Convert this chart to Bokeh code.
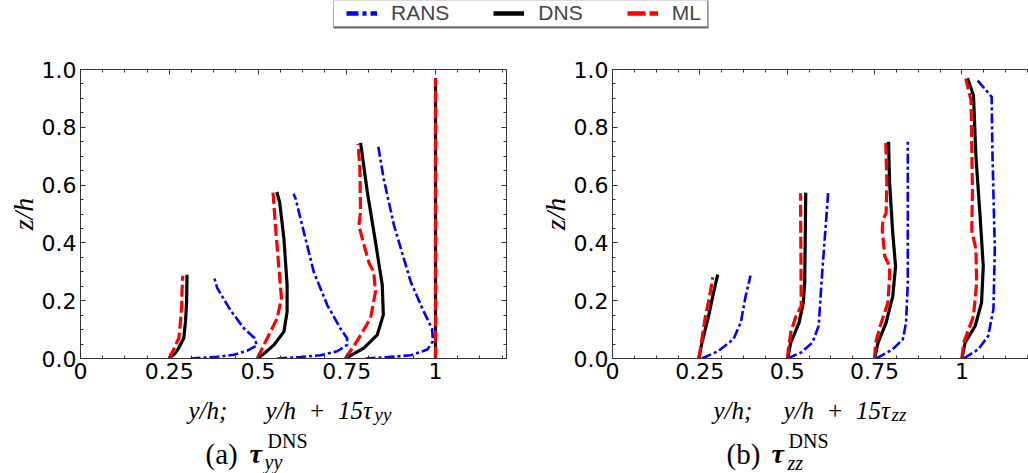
from bokeh.plotting import figure
from bokeh.models import (Range1d, FixedTicker, LinearAxis, Label, Legend, LegendItem,
                          BoxAnnotation, PrintfTickFormatter)
from bokeh.layouts import column, row
from bokeh.embed import file_html
from bokeh.resources import INLINE

# ---------------- data ----------------
STATIONS = [0.25, 0.5, 0.75, 1.0]
X_TICKS = [0, 0.25, 0.5, 0.75, 1]
X_TICK_LABELS = ["0", "0.25", "0.5", "0.75", "1"]
Y_TICKS = [0.0, 0.2, 0.4, 0.6, 0.8, 1.0]
SERIES = ["RANS", "DNS", "ML"]

# panel (a): abscissa = y/h + 15*tau_yy ; each station -> (z/h list, abscissa list)
YY_RANS = {
    0.25: ([0, 0.005, 0.013, 0.027, 0.045, 0.071, 0.105, 0.166, 0.244, 0.283],
           [0.31, 0.38, 0.432, 0.47, 0.497, 0.49, 0.46, 0.423, 0.385, 0.376]),
    0.5: ([0, 0.005, 0.011, 0.025, 0.047, 0.07, 0.104, 0.185, 0.3, 0.438, 0.553, 0.57],
          [0.554, 0.62, 0.676, 0.723, 0.751, 0.751, 0.732, 0.695, 0.657, 0.629, 0.606, 0.6]),
    0.75: ([0, 0.005, 0.011, 0.031, 0.06, 0.104, 0.162, 0.266, 0.461, 0.622, 0.739],
           [0.803, 0.87, 0.93, 0.977, 0.993, 0.99, 0.967, 0.93, 0.883, 0.854, 0.838]),
    1.0: ([0, 0.97], [1.0, 1.0]),
}
YY_DNS = {
    0.25: ([0, 0.02, 0.037, 0.071, 0.131, 0.2, 0.29],
           [0.249, 0.268, 0.277, 0.291, 0.296, 0.299, 0.3]),
    0.5: ([0, 0.02, 0.047, 0.093, 0.162, 0.254, 0.415, 0.541, 0.576],
          [0.498, 0.52, 0.545, 0.573, 0.582, 0.582, 0.573, 0.561, 0.553]),
    0.75: ([0, 0.036, 0.082, 0.151, 0.254, 0.403, 0.576, 0.746],
           [0.746, 0.798, 0.836, 0.853, 0.85, 0.831, 0.808, 0.789]),
    1.0: ([0, 0.97], [1.0, 1.0]),
}
YY_ML = {
    0.25: ([0, 0.033, 0.071, 0.131, 0.185, 0.234, 0.286],
           [0.25, 0.263, 0.277, 0.282, 0.285, 0.286, 0.288]),
    0.5: ([0, 0.07, 0.139, 0.209, 0.311, 0.461, 0.564, 0.574],
          [0.498, 0.526, 0.554, 0.566, 0.559, 0.549, 0.543, 0.542]),
    0.75: ([0, 0.06, 0.139, 0.231, 0.3, 0.33, 0.4, 0.461, 0.507, 0.656, 0.743],
           [0.746, 0.779, 0.817, 0.831, 0.826, 0.813, 0.797, 0.784, 0.789, 0.787, 0.782]),
    1.0: ([0, 0.97], [1.0, 1.0]),
}

# panel (b): abscissa = y/h + 15*tau_zz
ZZ_RANS = {
    0.25: ([0, 0.026, 0.067, 0.124, 0.216, 0.287],
           [0.256, 0.303, 0.346, 0.367, 0.381, 0.395]),
    0.5: ([0, 0.021, 0.055, 0.113, 0.262, 0.377, 0.572],
          [0.501, 0.54, 0.572, 0.59, 0.598, 0.605, 0.617]),
    0.75: ([0, 0.032, 0.067, 0.124, 0.262, 0.491, 0.75],
           [0.755, 0.802, 0.831, 0.84, 0.845, 0.845, 0.845]),
    1.0: ([0, 0.032, 0.078, 0.17, 0.377, 0.721, 0.905, 0.966],
          [1.005, 1.047, 1.075, 1.09, 1.094, 1.087, 1.085, 1.042]),
}
ZZ_DNS = {
    0.25: ([0, 0.055, 0.147, 0.227, 0.29],
           [0.247, 0.256, 0.275, 0.289, 0.301]),
    0.5: ([0, 0.055, 0.124, 0.193, 0.262, 0.574],
          [0.501, 0.51, 0.534, 0.546, 0.55, 0.553]),
    0.75: ([0, 0.055, 0.124, 0.216, 0.319, 0.434, 0.606, 0.75],
           [0.75, 0.76, 0.783, 0.802, 0.81, 0.802, 0.793, 0.79]),
    1.0: ([0, 0.055, 0.113, 0.193, 0.319, 0.491, 0.698, 0.91, 0.97],
          [1.0, 1.009, 1.038, 1.056, 1.061, 1.052, 1.04, 1.033, 1.016]),
}
ZZ_ML = {
    0.25: ([0, 0.03, 0.147, 0.216, 0.281],
           [0.247, 0.251, 0.266, 0.278, 0.287]),
    0.5: ([0, 0.03, 0.09, 0.147, 0.181, 0.572],
          [0.501, 0.503, 0.51, 0.525, 0.54, 0.538]),
    0.75: ([0, 0.055, 0.124, 0.193, 0.285, 0.319, 0.354, 0.445, 0.48, 0.503, 0.606, 0.746],
           [0.75, 0.753, 0.769, 0.788, 0.793, 0.793, 0.779, 0.772, 0.774, 0.783, 0.785, 0.782]),
    1.0: ([0, 0.055, 0.147, 0.262, 0.377, 0.445, 0.583, 0.893, 0.968],
          [1.0, 1.005, 1.033, 1.042, 1.04, 1.028, 1.03, 1.026, 1.011]),
}

# ---------------- styles ----------------
STYLE = {
    "RANS": dict(line_color="#0000ff", line_width=2.6, line_dash="10 3 3 3"),
    "DNS": dict(line_color="#000000", line_width=3.2),
    "ML": dict(line_color="#ff0000", line_width=3.2, line_dash="12 4"),
}
LEGEND_STYLE = {
    "RANS": dict(line_color="#0000ff", line_width=4.5, line_dash="12 4 4 4"),
    "DNS": dict(line_color="#000000", line_width=4.5),
    "ML": dict(line_color="#ff0000", line_width=4.5, line_dash="18 4"),
}
AXIS_COLOR = "#333333"
SERIF = "Liberation Serif"
W, H = 1028, 473
LEG_H, ROW_H = 30, 362
TXT_H = H - LEG_H - ROW_H
Y_TITLE = "z/h"


def style_axis(ax, labels=True):
    ax.axis_line_color = AXIS_COLOR
    ax.axis_line_width = 1
    ax.major_tick_line_color = AXIS_COLOR
    ax.minor_tick_line_color = AXIS_COLOR
    ax.major_tick_in = 5
    ax.major_tick_out = 0
    ax.minor_tick_in = 3
    ax.minor_tick_out = 0
    if labels:
        ax.major_label_text_font = "DejaVu Sans"
        ax.major_label_text_font_size = "22px"
        ax.major_label_text_color = "black"
        ax.major_label_standoff = 4
    else:
        ax.major_label_text_color = None
        ax.major_label_text_font_size = "1px"
        ax.major_label_standoff = 0


def blank(width, height, x0, x1, y0, y1):
    """A figure without axes whose data coordinates are the picture's pixels."""
    return figure(width=width, height=height, x_range=Range1d(x0, x1), y_range=Range1d(y1, y0),
                  x_axis_type=None, y_axis_type=None, toolbar_location=None,
                  output_backend="svg", min_border=0, outline_line_color=None)


def add_text(p, text, x, y, size, style="normal", align="left"):
    p.add_layout(Label(x=x, y=y, text=text, text_font=SERIF, text_font_size=size,
                       text_font_style=style, text_align=align, text_baseline="alphabetic",
                       text_color="black"))


def make_panel(width, height, mbl, mbr, mbt, mbb, xmax, rans, dns, ml, right_axis):
    p = figure(width=width, height=height, x_range=Range1d(0, xmax), y_range=Range1d(0, 1),
               x_axis_type=None, y_axis_type=None, toolbar_location=None,
               output_backend="svg", min_border_left=mbl, min_border_right=mbr,
               min_border_top=mbt, min_border_bottom=mbb, outline_line_color=None,
               background_fill_color="white", border_fill_color="white")
    x_minor = [i * 0.0625 for i in range(int(xmax / 0.0625) + 1)]
    y_minor = [i * 0.05 for i in range(21)]
    xb = LinearAxis(ticker=FixedTicker(ticks=X_TICKS, minor_ticks=x_minor),
                    major_label_overrides=dict(zip(X_TICKS, X_TICK_LABELS)))
    style_axis(xb)
    p.add_layout(xb, "below")
    xa = LinearAxis(ticker=FixedTicker(ticks=X_TICKS, minor_ticks=x_minor))
    style_axis(xa, labels=False)
    p.add_layout(xa, "above")
    yl = LinearAxis(ticker=FixedTicker(ticks=Y_TICKS, minor_ticks=y_minor),
                    formatter=PrintfTickFormatter(format="%.1f"),
                    axis_label=Y_TITLE)
    style_axis(yl)
    yl.axis_label_text_font = SERIF
    yl.axis_label_text_font_style = "italic"
    yl.axis_label_text_font_size = "28px"
    yl.axis_label_text_color = "black"
    yl.axis_label_standoff = 0
    p.add_layout(yl, "left")
    if right_axis:
        yr = LinearAxis(ticker=FixedTicker(ticks=Y_TICKS, minor_ticks=y_minor))
        style_axis(yr, labels=False)
        p.add_layout(yr, "right")
    for s in STATIONS:
        for name, d in (("RANS", rans), ("DNS", dns), ("ML", ml)):
            z, xv = d[s]
            p.line(xv, z, line_join="round", **STYLE[name])
    return p


# ---------------- panels ----------------
pa = make_panel(536, ROW_H, 80, 30, 38, 34, 1.2, YY_RANS, YY_DNS, YY_ML, True)
pb = make_panel(492, ROW_H, 70, 0, 39, 32, 422 / 354.5, ZZ_RANS, ZZ_DNS, ZZ_ML, False)

# x-axis titles and captions (strip below, pixel coordinates)
tf = blank(W, TXT_H, 0, W, LEG_H + ROW_H, H)
MAIN = "y/h\u00a0\u00a0+\u00a0\u00a015\u03c4"
# (a)
add_text(tf, "y/h;", 188, 410, "25px", "italic")
add_text(tf, MAIN, 265, 410, "25px", "italic")
add_text(tf, "yy", 374, 414, "19px", "italic")
add_text(tf, "(a)", 205, 453, "29px", "normal")
add_text(tf, "\u03c4", 249, 453, "28px", "bold italic")
add_text(tf, "DNS", 267, 440, "20px", "normal")
add_text(tf, "yy", 264, 461, "20px", "italic")
# (b)
add_text(tf, "y/h;", 713, 410, "25px", "italic")
add_text(tf, MAIN, 783, 410, "25px", "italic")
add_text(tf, "zz", 891, 414, "19px", "italic")
add_text(tf, "(b)", 726, 453, "29px", "normal")
add_text(tf, "\u03c4", 771, 453, "28px", "bold italic")
add_text(tf, "DNS", 788, 440, "20px", "normal")
add_text(tf, "zz", 787, 462, "20px", "italic")

# ---------------- legend strip ----------------
lf = blank(W, LEG_H, 0, W, 0, LEG_H)
lf.add_layout(BoxAnnotation(left=333, right=708, top=-5, bottom=28, fill_color="#707070",
                            fill_alpha=1.0, line_color=None))
lf.add_layout(BoxAnnotation(left=333, right=707, top=-5, bottom=26, fill_color="white",
                            fill_alpha=1.0, line_color="#444444", line_width=1))
items = []
for name in SERIES:
    # off-screen sample segment: only its style is used by the legend
    r = lf.line([-20, -10], [-20, -20], **LEGEND_STYLE[name])
    items.append(LegendItem(label=name, renderers=[r]))
leg = Legend(items=items, orientation="horizontal", location=(346, 5), padding=0, margin=0,
             spacing=44, glyph_width=31, glyph_height=20, label_standoff=14,
             label_text_font="Liberation Sans", label_text_font_size="21px",
             border_line_color=None, background_fill_alpha=0)
lf.add_layout(leg)

layout = column(lf, row(pa, pb), tf)
open("out.html", "w").write(file_html(layout, INLINE))
